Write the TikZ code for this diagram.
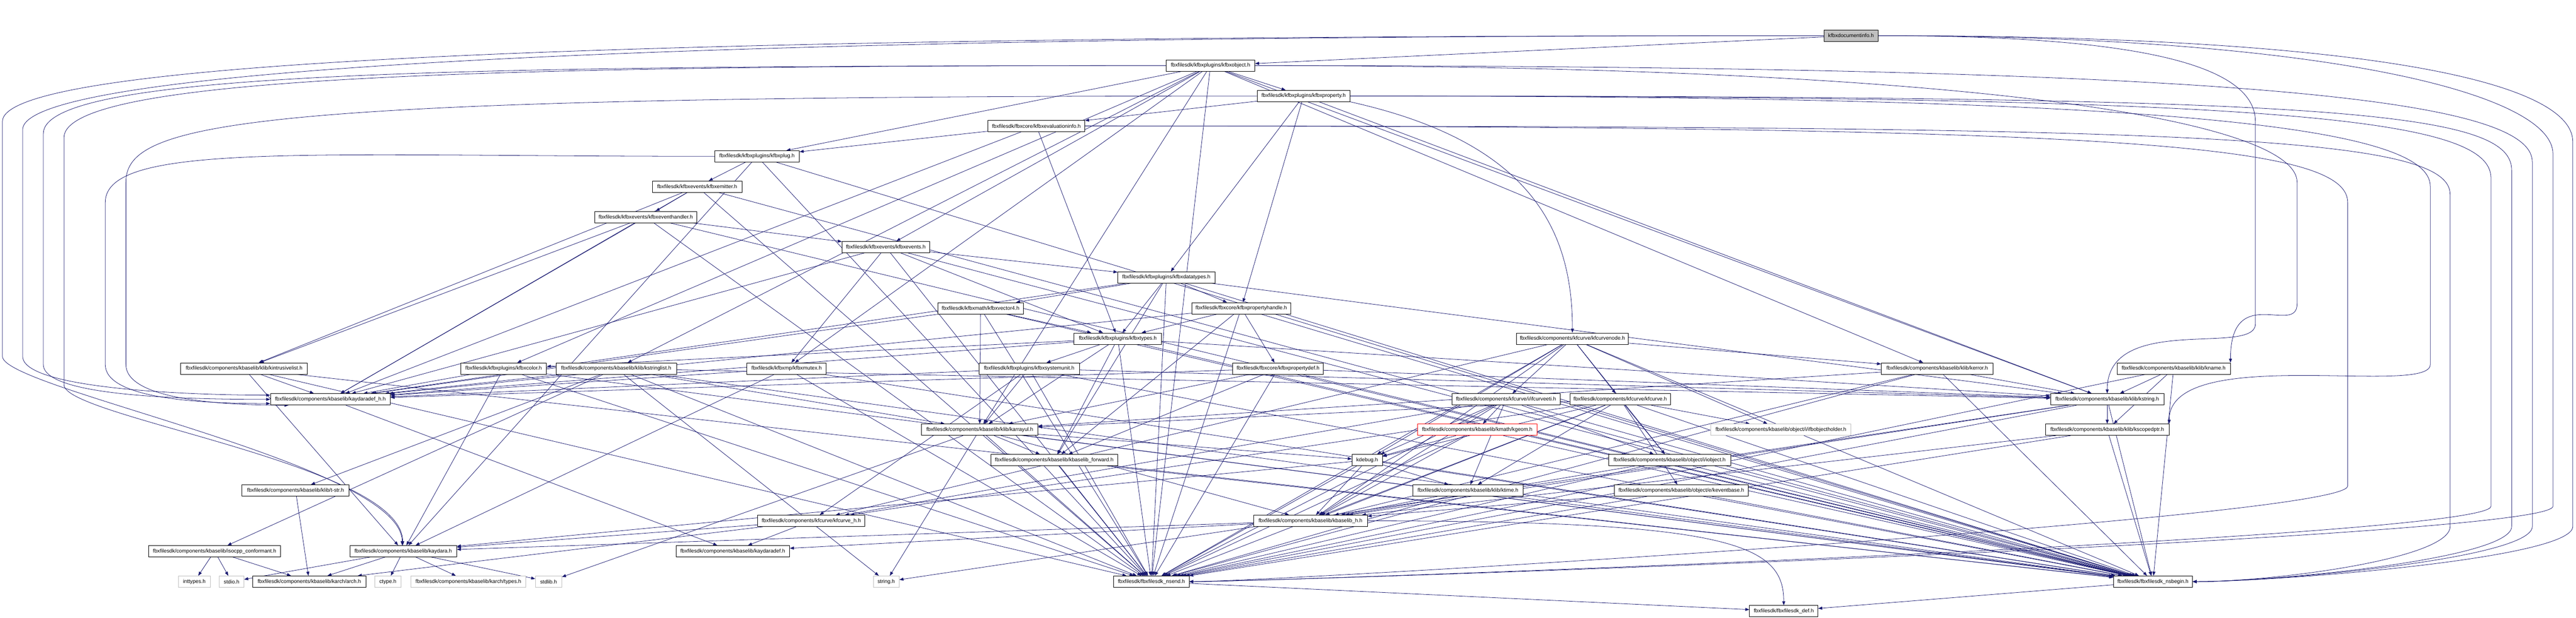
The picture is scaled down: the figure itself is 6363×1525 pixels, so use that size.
\documentclass[tikz,border=0pt]{standalone}
\usepackage{fontspec}
\setmainfont{Liberation Sans}
\usetikzlibrary{arrows.meta}
\definecolor{mb}{HTML}{191970}
\definecolor{gb}{HTML}{BFBFBF}
\pgfdeclarelayer{bg}
\pgfsetlayers{bg,main}
\newcommand{\fsz}{\fontsize{13pt}{15pt}\selectfont}
\newcommand{\LaneL}[7]{\draw[edge] (#1) .. controls +(-#2,0) and +(0,150) .. (#3,#4) -- (#3,#5) .. controls +(0,-80) and #6 .. (#7);}
\newcommand{\LaneR}[7]{\draw[edge] (#1) .. controls +(#2,0) and +(0,150) .. (#3,#4) -- (#3,#5) .. controls +(0,-80) and #6 .. (#7);}
\begin{document}
\begin{tikzpicture}[x=1pt,y=1pt,
  box/.style={draw=black,fill=white,line width=1pt,minimum height=28pt,inner sep=0pt,font=\fsz},
  sys/.style={box,draw=gb},
  edge/.style={draw=mb,line width=1pt,-{Triangle[length=10pt,width=7.5pt]}}]
\useasboundingbox (0,0) rectangle (6363,-1525);
% nodes
\node[box,minimum width=133pt,fill=gb] (doc) at (4572,-88) {kfbxdocumentinfo.h};
\node[box,minimum width=219pt] (obj) at (2990,-162) {fbxfilesdk/kfbxplugins/kfbxobject.h};
\node[box,minimum width=230pt] (prop) at (3220,-237) {fbxfilesdk/kfbxplugins/kfbxproperty.h};
\node[box,minimum width=239pt] (evalinfo) at (2560,-311) {fbxfilesdk/fbxcore/kfbxevaluationinfo.h};
\node[box,minimum width=209pt] (plug) at (1870,-386) {fbxfilesdk/kfbxplugins/kfbxplug.h};
\node[box,minimum width=221pt] (emitter) at (1722,-461) {fbxfilesdk/kfbxevents/kfbxemitter.h};
\node[box,minimum width=251pt] (evhandler) at (1595,-536) {fbxfilesdk/kfbxevents/kfbxeventhandler.h};
\node[box,minimum width=216pt] (events) at (2188,-610) {fbxfilesdk/kfbxevents/kfbxevents.h};
\node[box,minimum width=240pt] (datatypes) at (2881,-685) {fbxfilesdk/kfbxplugins/kfbxdatatypes.h};
\node[box,minimum width=211pt] (vec4) at (2422,-761) {fbxfilesdk/kfbxmath/kfbxvector4.h};
\node[box,minimum width=245pt] (prophandle) at (3066,-761) {fbxfilesdk/fbxcore/kfbxpropertyhandle.h};
\node[box,minimum width=217pt] (types) at (2761,-836) {fbxfilesdk/kfbxplugins/kfbxtypes.h};
\node[box,minimum width=277pt] (curvenode) at (3884,-836) {fbxfilesdk/components/kfcurve/kfcurvenode.h};
\node[box,minimum width=313pt] (intrus) at (603,-910) {fbxfilesdk/components/kbaselib/klib/kintrusivelist.h};
\node[box,minimum width=212pt] (color) at (1244,-910) {fbxfilesdk/kfbxplugins/kfbxcolor.h};
\node[box,minimum width=298pt] (strlist) at (1522,-910) {fbxfilesdk/components/kbaselib/klib/kstringlist.h};
\node[box,minimum width=196pt] (mutex) at (1943,-910) {fbxfilesdk/kfbxmp/kfbxmutex.h};
\node[box,minimum width=248pt] (sysunit) at (2542,-910) {fbxfilesdk/kfbxplugins/kfbxsystemunit.h};
\node[box,minimum width=224pt] (propdef) at (3157,-910) {fbxfilesdk/fbxcore/kfbxpropertydef.h};
\node[box,minimum width=276pt] (kerror) at (4785,-910) {fbxfilesdk/components/kbaselib/klib/kerror.h};
\node[box,minimum width=280pt] (kname) at (5369,-910) {fbxfilesdk/components/kbaselib/klib/kname.h};
\node[box,minimum width=296pt] (kdefh) at (816,-986) {fbxfilesdk/components/kbaselib/kaydaradef\_h.h};
\node[box,minimum width=267pt] (ifcurveeti) at (3720,-986) {fbxfilesdk/components/kfcurve/i/ifcurveeti.h};
\node[box,minimum width=249pt] (kfcurve) at (4002,-986) {fbxfilesdk/components/kfcurve/kfcurve.h};
\node[box,minimum width=280pt] (kstring) at (5205,-986) {fbxfilesdk/components/kbaselib/klib/kstring.h};
\node[box,minimum width=287pt] (karrayul) at (2420,-1061) {fbxfilesdk/components/kbaselib/klib/karrayul.h};
\node[box,minimum width=296pt,draw=red] (kgeom) at (3649,-1061) {fbxfilesdk/components/kbaselib/kmath/kgeom.h};
\node[sys,minimum width=346pt] (objholder) at (4399,-1061) {fbxfilesdk/components/kbaselib/object/i/ifbobjectholder.h};
\node[box,minimum width=305pt] (kscoped) at (5205,-1061) {fbxfilesdk/components/kbaselib/klib/kscopedptr.h};
\node[box,minimum width=313pt] (kbfwd) at (2604,-1136) {fbxfilesdk/components/kbaselib/kbaselib\_forward.h};
\node[box,minimum width=75pt] (kdebug) at (3377,-1136) {kdebug.h};
\node[box,minimum width=301pt] (iobject) at (4124,-1136) {fbxfilesdk/components/kbaselib/object/i/iobject.h};
\node[box,minimum width=265pt] (tstr) at (730,-1211) {fbxfilesdk/components/kbaselib/klib/t-str.h};
\node[box,minimum width=273pt] (ktime) at (3626,-1211) {fbxfilesdk/components/kbaselib/klib/ktime.h};
\node[box,minimum width=332pt] (keventbase) at (4153,-1211) {fbxfilesdk/components/kbaselib/object/e/keventbase.h};
\node[box,minimum width=265pt] (kfcurveh) at (2004,-1286) {fbxfilesdk/components/kfcurve/kfcurve\_h.h};
\node[box,minimum width=281pt] (kbaselibh) at (3237,-1286) {fbxfilesdk/components/kbaselib/kbaselib\_h.h};
\node[box,minimum width=325pt] (isocpp) at (530,-1361) {fbxfilesdk/components/kbaselib/isocpp\_conformant.h};
\node[box,minimum width=264pt] (kaydara) at (996,-1361) {fbxfilesdk/components/kbaselib/kaydara.h};
\node[box,minimum width=281pt] (kdef) at (1810,-1361) {fbxfilesdk/components/kbaselib/kaydaradef.h};
\node[sys,minimum width=79pt] (inttypes) at (480,-1436) {inttypes.h};
\node[sys,minimum width=61pt] (stdio) at (572,-1436) {stdio.h};
\node[box,minimum width=279pt] (arch) at (764,-1436) {fbxfilesdk/components/kbaselib/karch/arch.h};
\node[sys,minimum width=64pt] (ctype) at (958,-1436) {ctype.h};
\node[sys,minimum width=284pt] (ktypes) at (1157,-1436) {fbxfilesdk/components/kbaselib/karch/types.h};
\node[sys,minimum width=65pt] (stdlib) at (1355,-1436) {stdlib.h};
\node[sys,minimum width=64pt] (string) at (2189,-1436) {string.h};
\node[box,minimum width=186pt] (nsend) at (2844,-1436) {fbxfilesdk/fbxfilesdk\_nsend.h};
\node[box,minimum width=195pt] (nsbegin) at (5318,-1436) {fbxfilesdk/fbxfilesdk\_nsbegin.h};
\node[box,minimum width=169pt] (sdkdef) at (4406,-1509) {fbxfilesdk/fbxfilesdk\_def.h};
% edges
\begin{pgfonlayer}{bg}
\foreach \s/\t in {doc/obj,
 obj/prop, obj/plug, obj/events, obj/strlist, obj/karrayul, obj/mutex, obj/nsend, obj/kerror, obj/color, obj/kstring,
 prop/evalinfo, prop/datatypes, prop/prophandle, prop/kstring,
 evalinfo/plug, evalinfo/kdefh, evalinfo/types,
 plug/emitter, plug/nsbegin, plug/nsend, plug/kaydara,
 emitter/evhandler, emitter/kdefh, emitter/intrus, emitter/nsbegin, emitter/nsend,
 evhandler/events, evhandler/kdefh, evhandler/intrus, evhandler/nsbegin, evhandler/nsend,
 events/datatypes, events/types, events/mutex, events/kdefh, events/nsbegin, events/nsend,
 datatypes/vec4, datatypes/prophandle, datatypes/types, datatypes/kdefh, datatypes/kbfwd, datatypes/nsbegin, datatypes/nsend, datatypes/kstring,
 vec4/types, vec4/karrayul, vec4/kdefh, vec4/nsbegin, vec4/nsend,
 prophandle/types, prophandle/propdef, prophandle/kdefh, prophandle/nsbegin, prophandle/nsend, prophandle/kbfwd,
 types/sysunit, types/kbfwd, types/kdefh, types/color, types/nsbegin, types/nsend, types/kstring, types/karrayul,
 curvenode/ifcurveeti, curvenode/kfcurve, curvenode/objholder, curvenode/iobject, curvenode/kerror, curvenode/kbaselibh, curvenode/kdebug, curvenode/nsbegin, curvenode/nsend, curvenode/kfcurveh,
 intrus/kdefh, intrus/kaydara, intrus/nsbegin, intrus/nsend,
 color/kdefh, color/kaydara, color/nsbegin, color/nsend,
 strlist/kdefh, strlist/karrayul, strlist/kstring, strlist/tstr, strlist/isocpp, strlist/nsbegin, strlist/nsend, strlist/string,
 mutex/kdefh, mutex/kaydara, mutex/nsbegin, mutex/nsend,
 sysunit/kdefh, sysunit/kfcurveh, sysunit/karrayul, sysunit/kstring, sysunit/nsbegin, sysunit/nsend,
 propdef/kdefh, propdef/karrayul, propdef/kbfwd, propdef/nsbegin, propdef/nsend, propdef/kstring,
 kerror/kstring, kerror/kbaselibh, kerror/nsbegin, kerror/nsend, kerror/karrayul,
 kname/kstring, kname/kscoped, kname/nsbegin, kname/nsend,
 kdefh/kdef,
 ifcurveeti/kgeom, ifcurveeti/kdebug, ifcurveeti/kbaselibh, ifcurveeti/ktime, ifcurveeti/iobject, ifcurveeti/nsbegin, ifcurveeti/nsend, ifcurveeti/kfcurveh,
 kfcurve/ktime, kfcurve/iobject, kfcurve/keventbase, kfcurve/objholder, kfcurve/kbaselibh, kfcurve/kdebug, kfcurve/nsbegin, kfcurve/nsend, kfcurve/karrayul, kfcurve/kfcurveh,
 kstring/kscoped, kstring/kbaselibh, kstring/nsbegin, kstring/nsend, kstring/string,
 karrayul/kbfwd, karrayul/kdebug, karrayul/string, karrayul/nsbegin, karrayul/nsend, karrayul/kbaselibh, karrayul/stdlib,
 kgeom/kdebug, kgeom/kbaselibh, kgeom/nsbegin, kgeom/nsend,
 kscoped/nsbegin, kscoped/nsend, kscoped/kbaselibh,
 kbfwd/nsbegin, kbfwd/nsend,
 kdebug/kbaselibh, kdebug/ktime, kdebug/nsend, kdebug/nsbegin, kdebug/kaydara,
 iobject/kbaselibh, iobject/nsbegin, iobject/nsend,
 tstr/arch,
 ktime/kbaselibh, ktime/nsbegin, ktime/nsend,
 keventbase/kbaselibh, keventbase/nsbegin, keventbase/nsend,
 kfcurveh/kdef, kfcurveh/kaydara, kfcurveh/arch,
 kbaselibh/kdef, kbaselibh/kaydara,
 isocpp/inttypes, isocpp/stdio, isocpp/arch,
 kaydara/stdio, kaydara/arch, kaydara/ctype, kaydara/ktypes, kaydara/stdlib,
 nsbegin/sdkdef, nsend/sdkdef}
 \draw[edge] (\s) -- (\t);
\draw[edge] (kbaselibh.east) .. controls +(900,0) and +(0,150) .. (sdkdef.north);
\draw[edge] (prop.south east) .. controls +(450,-100) and +(0,250) .. (curvenode.north);
% left lanes
\LaneL{doc.west}{3000}{6}{-300}{-880}{+(0,200)}{kaydara.100}
\LaneL{doc.west}{2900}{56}{-320}{-880}{+(-200,0)}{kdefh.176}
\LaneL{obj.west}{1800}{107}{-330}{-900}{+(-200,0)}{kdefh.180}
\LaneL{obj.west}{1700}{158}{-340}{-950}{+(0,200)}{kaydara.95}
\LaneL{plug.west}{1000}{260}{-500}{-900}{+(-200,0)}{kdefh.184}
\LaneL{prop.west}{2500}{311}{-450}{-900}{+(-200,0)}{kdefh.188}
% right lanes
\LaneR{doc.east}{1200}{6355}{-350}{-1300}{+(200,0)}{nsbegin.east}
\LaneR{doc.east}{1100}{6306}{-380}{-1250}{+(200,0)}{nsend.east}
\LaneR{obj.east}{2500}{6255}{-400}{-1300}{+(200,0)}{nsbegin.east}
\LaneR{prop.east}{2400}{6204}{-420}{-1300}{+(200,0)}{nsbegin.east}
\LaneR{prop.east}{2300}{6153}{-440}{-1250}{+(200,0)}{nsend.east}
\LaneR{evalinfo.east}{2700}{6052}{-480}{-1300}{+(200,0)}{nsbegin.east}
\LaneR{prop.east}{2000}{6003}{-460}{-900}{+(0,200)}{kscoped.north east}
\LaneR{evalinfo.east}{2500}{5799}{-500}{-1200}{+(200,0)}{nsend.east}
\LaneR{obj.east}{1800}{5674}{-450}{-750}{+(0,200)}{kname.north east}
\LaneR{doc.east}{600}{5571}{-300}{-800}{+(0,200)}{kstring.north}
\end{pgfonlayer}
\end{tikzpicture}
\end{document}
